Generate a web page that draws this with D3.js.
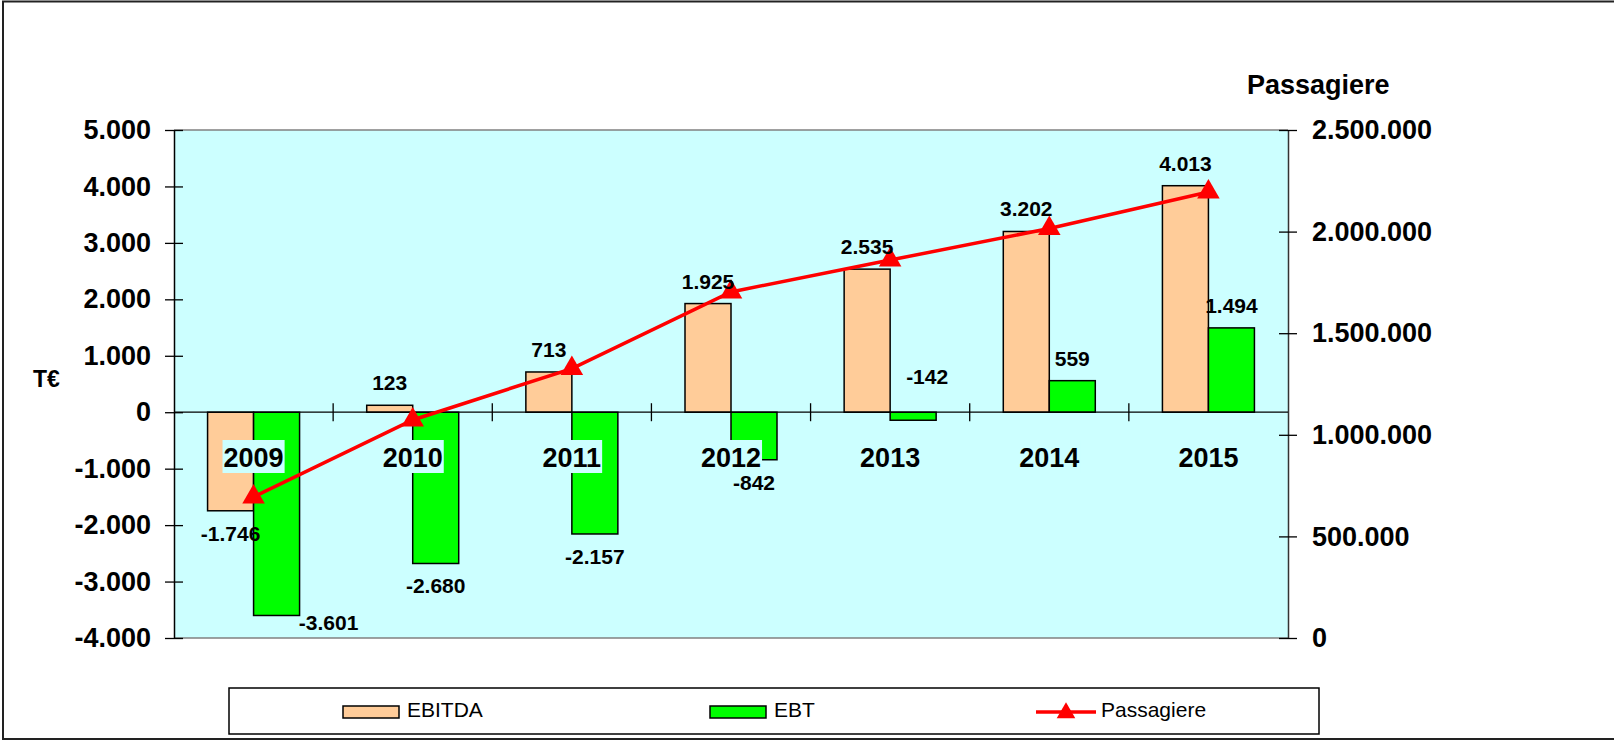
<!DOCTYPE html>
<html>
<head>
<meta charset="utf-8">
<script src="https://cdn.jsdelivr.net/npm/d3@7"></script>
<style>
  body { margin: 0; background: #fff; }
  svg { display: block; font-family: "Liberation Sans", Arial, sans-serif; }
</style>
</head>
<body>
<svg id="chart"></svg>
<script>
// chart data
var years = ["2009", "2010", "2011", "2012", "2013", "2014", "2015"];
var ebitda = [-1746, 123, 713, 1925, 2535, 3202, 4013];
var ebt = [-3601, -2680, -2157, -842, -142, 559, 1494];
var passagiere = [694000, 1073000, 1326000, 1703000, 1860000, 2015000, 2195000];
var leftTicks = [-4000, -3000, -2000, -1000, 0, 1000, 2000, 3000, 4000, 5000];
var rightTicks = [0, 500000, 1000000, 1500000, 2000000, 2500000];
var seriesNames = ["EBITDA", "EBT", "Passagiere"];

var width = 1614;
var height = 740;
var plot = { left: 174, right: 1288, top: 130, bottom: 638 };
var colors = { EBITDA: "#ffcc99", EBT: "#00ff00", Passagiere: "#ff0000", bg: "#ccffff" };

// german number format, "5.000", plain hyphen for minus
var de = d3.formatLocale({ decimal: ",", thousands: ".", grouping: [3], currency: ["", " €"], minus: "-" });
var fmt = de.format(",d");

var svg = d3.select("#chart").attr("width", width).attr("height", height);

// outer frame
svg.append("rect")
    .attr("x", 3).attr("y", 1.5)
    .attr("width", width + 10).attr("height", 737.5)
    .attr("fill", "none").attr("stroke", "#222").attr("stroke-width", 2);

var x = d3.scaleBand().domain(years).range([plot.left, plot.right]).padding(0);
var bw = 46;
var x1 = d3.scaleBand().domain(["EBITDA", "EBT"])
    .range([(x.bandwidth() - 2 * bw) / 2, (x.bandwidth() + 2 * bw) / 2]).padding(0);
var y = d3.scaleLinear().domain([-4000, 5000]).range([plot.bottom, plot.top]);
var y2 = d3.scaleLinear().domain([0, 2500000]).range([plot.bottom, plot.top]);

// plot background
svg.append("rect")
    .attr("x", plot.left).attr("y", plot.top)
    .attr("width", plot.right - plot.left).attr("height", plot.bottom - plot.top)
    .attr("fill", colors.bg);
svg.append("line")
    .attr("x1", plot.left).attr("x2", plot.right).attr("y1", plot.top).attr("y2", plot.top)
    .attr("stroke", "#808080").attr("stroke-width", 1.5);
svg.append("line")
    .attr("x1", plot.left).attr("x2", plot.right).attr("y1", plot.bottom).attr("y2", plot.bottom)
    .attr("stroke", "#808080").attr("stroke-width", 1.5);

// left axis
var yAxis = d3.axisLeft(y).tickValues(leftTicks).tickFormat(fmt).tickSizeInner(9).tickSizeOuter(0).tickPadding(14);
var gL = svg.append("g").attr("transform", "translate(" + plot.left + ",0)").call(yAxis);
gL.select(".domain").attr("stroke", "#000").attr("stroke-width", 1.5);
gL.selectAll(".tick line").attr("x2", -9).attr("x1", 9).attr("stroke", "#000").attr("stroke-width", 1.3);
gL.selectAll(".tick text").attr("font-size", 27).attr("font-weight", "bold").attr("fill", "#000")
    .attr("font-family", "Liberation Sans, Arial, sans-serif");

// right axis
var yAxis2 = d3.axisRight(y2).tickValues(rightTicks).tickFormat(fmt).tickSizeInner(9).tickSizeOuter(0).tickPadding(15);
var gR = svg.append("g").attr("transform", "translate(" + plot.right + ",0)").call(yAxis2);
gR.select(".domain").attr("stroke", "#333").attr("stroke-width", 1.5);
gR.selectAll(".tick line").attr("x1", -9).attr("x2", 9).attr("stroke", "#000").attr("stroke-width", 1.3);
gR.selectAll(".tick text").attr("font-size", 27).attr("font-weight", "bold").attr("fill", "#000")
    .attr("font-family", "Liberation Sans, Arial, sans-serif");

// axis titles
svg.append("text").attr("x", 33).attr("y", 387).attr("font-size", 23).attr("font-weight", "bold").text("T€");
svg.append("text").attr("x", 1247).attr("y", 94).attr("font-size", 27).attr("font-weight", "bold").text("Passagiere");

// bars
var barData = [];
years.forEach(function (yr, i) {
    barData.push({ year: yr, key: "EBITDA", value: ebitda[i] });
    barData.push({ year: yr, key: "EBT", value: ebt[i] });
});

svg.append("g").selectAll("rect")
    .data(barData)
    .enter().append("rect")
    .attr("x", function (d) { return x(d.year) + x1(d.key); })
    .attr("width", x1.bandwidth())
    .attr("y", function (d) { return Math.min(y(d.value), y(0)); })
    .attr("height", function (d) { return Math.abs(y(d.value) - y(0)); })
    .attr("fill", function (d) { return colors[d.key]; })
    .attr("stroke", "#000").attr("stroke-width", 1.5);

// zero line with category ticks
svg.append("line")
    .attr("x1", plot.left).attr("x2", plot.right).attr("y1", y(0)).attr("y2", y(0))
    .attr("stroke", "#000").attr("stroke-width", 1.3);
svg.append("g").selectAll("line")
    .data(years.slice(1))
    .enter().append("line")
    .attr("x1", function (d) { return x(d); }).attr("x2", function (d) { return x(d); })
    .attr("y1", y(0) - 9).attr("y2", y(0) + 9)
    .attr("stroke", "#000").attr("stroke-width", 1.3);

// year labels with box
var yearG = svg.append("g").selectAll("g")
    .data(years)
    .enter().append("g");
yearG.append("text")
    .attr("x", function (d) { return x(d) + x.bandwidth() / 2; })
    .attr("y", 467)
    .attr("text-anchor", "middle")
    .attr("font-size", 27).attr("font-weight", "bold")
    .text(function (d) { return d; });
yearG.each(function () {
    var g = d3.select(this);
    var bb = g.select("text").node().getBBox();
    g.insert("rect", "text")
        .attr("x", bb.x - 1).attr("y", 440)
        .attr("width", bb.width + 2).attr("height", 33)
        .attr("fill", colors.bg);
});

// passenger line
var line = d3.line()
    .x(function (d, i) { return x(years[i]) + x.bandwidth() / 2; })
    .y(function (d) { return y2(d); });
svg.append("path")
    .datum(passagiere)
    .attr("d", line)
    .attr("fill", "none").attr("stroke", colors.Passagiere).attr("stroke-width", 3.5);
svg.append("g").selectAll("path")
    .data(passagiere)
    .enter().append("path")
    .attr("d", d3.symbol().type(d3.symbolTriangle).size(220))
    .attr("transform", function (d, i) {
        return "translate(" + (x(years[i]) + x.bandwidth() / 2) + "," + y2(d) + ")";
    })
    .attr("fill", colors.Passagiere);

// value labels
function labelPos(d) {
    var cx = x(d.year) + x1(d.key) + x1.bandwidth() / 2;
    var yy;
    if (d.value >= 0) {
        yy = y(d.value) - 15;
    } else {
        yy = y(d.value) + 30;
    }
    // -142 sits above the zero line
    if (d.key === "EBT" && d.value < 0 && Math.abs(y(d.value) - y(0)) < 20) {
        yy = y(0) - 28;
        cx += 14;
    }
    // no room below the plot: move it right of the bar
    if (yy > plot.bottom - 6) {
        yy = plot.bottom - 8;
        cx += 52;
    }
    return [cx, yy];
}
svg.append("g").selectAll("text")
    .data(barData)
    .enter().append("text")
    .attr("x", function (d) { return labelPos(d)[0]; })
    .attr("y", function (d) { return labelPos(d)[1]; })
    .attr("text-anchor", "middle")
    .attr("font-size", 21).attr("font-weight", "bold")
    .text(function (d) { return fmt(d.value); });

// legend
var leg = svg.append("g");
leg.append("rect")
    .attr("x", 229).attr("y", 688).attr("width", 1090).attr("height", 46)
    .attr("fill", "#fff").attr("stroke", "#000").attr("stroke-width", 1.5);
var legX = [343, 710, 1036];
seriesNames.forEach(function (name, i) {
    if (name === "Passagiere") {
        leg.append("line")
            .attr("x1", legX[i]).attr("x2", legX[i] + 60).attr("y1", 712).attr("y2", 712)
            .attr("stroke", colors[name]).attr("stroke-width", 3.5);
        leg.append("path")
            .attr("d", d3.symbol().type(d3.symbolTriangle).size(150))
            .attr("transform", "translate(" + (legX[i] + 30) + ",713)")
            .attr("fill", colors[name]);
        leg.append("text").attr("x", legX[i] + 65).attr("y", 717).attr("font-size", 21).text(name);
    } else {
        leg.append("rect")
            .attr("x", legX[i]).attr("y", 706).attr("width", 56).attr("height", 12)
            .attr("fill", colors[name]).attr("stroke", "#000").attr("stroke-width", 1.5);
        leg.append("text").attr("x", legX[i] + 64).attr("y", 717).attr("font-size", 21).text(name);
    }
});
</script>
</body>
</html>
